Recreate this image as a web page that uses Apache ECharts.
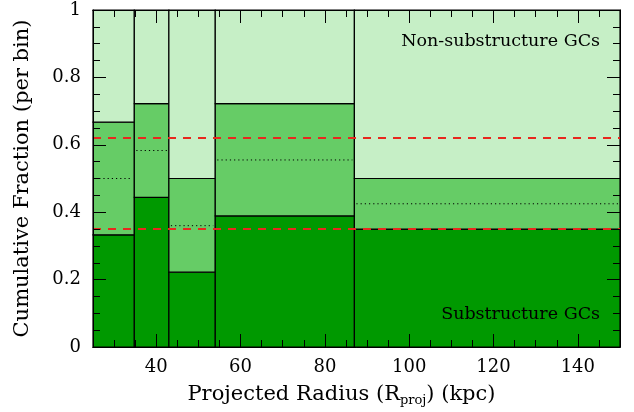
<!DOCTYPE html>
<html>
<head>
<meta charset="utf-8">
<script src="https://cdn.jsdelivr.net/npm/echarts@6/dist/echarts.min.js"></script>
<style>html,body{margin:0;padding:0;background:#fff}#c{width:634px;height:412px}</style>
</head>
<body>
<div id="c"></div>
<script>
// ---- data ----
var binEdges = [25, 34.8, 43, 54, 87, 150];           // kpc
var subFrac = [0.333, 0.444, 0.222, 0.389, 0.35];     // Substructure GCs (cumulative top of dark layer)
var midFrac = [0.667, 0.722, 0.5, 0.722, 0.5];        // top of medium layer
var dottedFrac = [0.5, 0.583, 0.36, 0.555, 0.425];    // dotted reference level per bin
var refLines = [0.62, 0.346];                         // red dashed levels
var xMajorTicks = [40, 60, 80, 100, 120, 140];
var xMinorTicks = [30, 35, 45, 50, 55, 65, 70, 75, 85, 90, 95, 105, 110, 115, 125, 130, 135, 145];

var FONT = 'DejaVu Serif';
var colDark = '#009900', colMid = '#66cc66', colLight = '#c6efc6';
var layerColors = [colDark, colMid, colLight];

var rectData = [];
for (var i = 0; i < subFrac.length; i++) {
  rectData.push([binEdges[i], binEdges[i + 1], 0, subFrac[i], 0]);
  rectData.push([binEdges[i], binEdges[i + 1], subFrac[i], midFrac[i], 1]);
  rectData.push([binEdges[i], binEdges[i + 1], midFrac[i], 1, 2]);
}
var dotData = [];
for (var j = 0; j < dottedFrac.length; j++) {
  dotData.push([binEdges[j], binEdges[j + 1], dottedFrac[j]]);
}

function xAxisDef(pos, ticks, len, labels, extra) {
  var a = {
    type: 'value', gridIndex: 0, position: pos, min: 25, max: 150, z: 10,
    axisLine: { show: true, onZero: false, lineStyle: { color: '#000', width: 1 } },
    axisTick: { show: true, inside: true, length: len, customValues: ticks, lineStyle: { color: '#000', width: 1 } },
    axisLabel: labels ? { show: true, customValues: ticks, color: '#000', fontFamily: FONT, fontSize: 18, margin: 11 } : { show: false },
    splitLine: { show: false }
  };
  for (var k in extra) a[k] = extra[k];
  return a;
}
function yAxisDef(pos, labels, extra) {
  var a = {
    type: 'value', gridIndex: 0, position: pos, min: 0, max: 1, interval: 0.2, z: 10,
    axisLine: { show: true, onZero: false, lineStyle: { color: '#000', width: 1 } },
    axisTick: { show: true, inside: true, length: 13, lineStyle: { color: '#000', width: 1 } },
    minorTick: { show: true, splitNumber: 4, length: 7, lineStyle: { color: '#000', width: 1 } },
    axisLabel: labels ? { show: true, color: '#000', fontFamily: FONT, fontSize: 18, margin: 12 } : { show: false },
    splitLine: { show: false }, minorSplitLine: { show: false }
  };
  for (var k in extra) a[k] = extra[k];
  return a;
}

var chart = echarts.init(document.getElementById('c'), null, { renderer: 'canvas' });
chart.setOption({
  animation: false,
  backgroundColor: '#fff',
  grid: { left: 93, right: 14, top: 10, bottom: 65, containLabel: false, outerBoundsMode: 'none' },
  xAxis: [
    xAxisDef('bottom', xMajorTicks, 13, true, {
      name: 'Projected Radius (R{sub|proj}) (kpc)', nameLocation: 'middle', nameGap: 36,
      nameTextStyle: { color: '#000', fontFamily: FONT, fontSize: 21, padding: [0, 30, 0, 0],
        rich: { sub: { fontFamily: FONT, fontSize: 13, padding: [11, 0, 0, 0], color: '#000' } } }
    }),
    xAxisDef('bottom', xMinorTicks, 7, false, {}),
    xAxisDef('top', xMajorTicks, 13, false, {}),
    xAxisDef('top', xMinorTicks, 7, false, {})
  ],
  yAxis: [
    yAxisDef('left', true, {
      name: 'Cumulative Fraction (per bin)', nameLocation: 'middle', nameGap: 60,
      nameTextStyle: { color: '#000', fontFamily: FONT, fontSize: 21 }
    }),
    yAxisDef('right', false, {})
  ],
  series: [
    {
      type: 'custom', xAxisIndex: 0, yAxisIndex: 0, z: 2,
      data: rectData,
      encode: { x: [0, 1], y: [2, 3] },
      renderItem: function (params, api) {
        var p0 = api.coord([api.value(0), api.value(2)]);
        var p1 = api.coord([api.value(1), api.value(3)]);
        return {
          type: 'rect',
          shape: { x: p0[0], y: p1[1], width: p1[0] - p0[0], height: p0[1] - p1[1] },
          style: { fill: layerColors[api.value(4)], stroke: '#000', lineWidth: 1.2 }
        };
      }
    },
    {
      type: 'custom', xAxisIndex: 0, yAxisIndex: 0, z: 3,
      data: dotData,
      encode: { x: [0, 1], y: 2 },
      renderItem: function (params, api) {
        var p0 = api.coord([api.value(0), api.value(2)]);
        var p1 = api.coord([api.value(1), api.value(2)]);
        return {
          type: 'line',
          shape: { x1: p0[0] + 2, y1: p0[1], x2: p1[0] - 2, y2: p1[1] },
          style: { stroke: '#000', lineWidth: 1, lineDash: [1.2, 3] }
        };
      }
    },
    {
      type: 'line', xAxisIndex: 0, yAxisIndex: 0, z: 4, data: [], symbol: 'none',
      markLine: {
        silent: true, symbol: 'none', label: { show: false },
        lineStyle: { color: '#e8281e', type: [8, 7], width: 1.8 },
        data: refLines.map(function (v) { return { yAxis: v }; })
      }
    }
  ],
  graphic: [
    { type: 'text', right: 34, top: 32, z: 20,
      style: { text: 'Non-substructure GCs', fill: '#000', font: '17.5px "' + FONT + '"', textAlign: 'right' } },
    { type: 'text', right: 34, top: 305, z: 20,
      style: { text: 'Substructure GCs', fill: '#000', font: '17.5px "' + FONT + '"', textAlign: 'right' } }
  ]
});
</script>
</body>
</html>
